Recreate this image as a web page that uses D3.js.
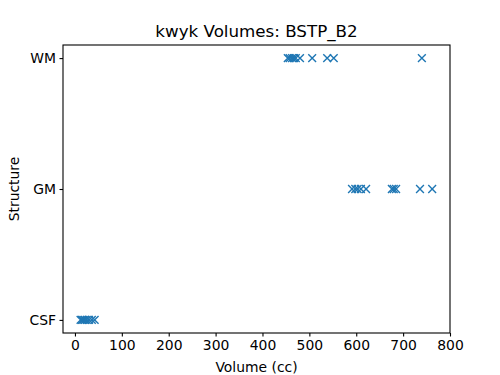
<!DOCTYPE html>
<html>
<head>
<meta charset="utf-8">
<script src="https://cdn.jsdelivr.net/npm/d3@7"></script>
<style>
  body { margin: 0; background: #fff; }
  text { font-family: "DejaVu Sans", sans-serif; fill: #000; }
</style>
</head>
<body>
<div id="chart"></div>
<script>
// volumes (cc)
const structures = ["CSF", "GM", "WM"];
const csfVolumes = [12, 15, 18, 21, 25, 30, 36, 42];
const gmVolumes = [591, 598, 603, 610, 621, 676, 680, 685, 736, 762];
const wmVolumes = [454, 458, 463, 467, 471, 480, 506, 538, 552, 740];
const xTicks = [0, 100, 200, 300, 400, 500, 600, 700, 800];

const points = [];
csfVolumes.forEach(v => points.push({s: "CSF", v: v}));
gmVolumes.forEach(v => points.push({s: "GM", v: v}));
wmVolumes.forEach(v => points.push({s: "WM", v: v}));

const width = 500, height = 375;
const margin = {top: 45, right: 50, bottom: 42, left: 63};

const svg = d3.select("#chart").append("svg")
  .attr("width", width)
  .attr("height", height);

const x = d3.scaleLinear()
  .domain([-25.5, 800])
  .range([margin.left, width - margin.right]);

// categorical axis with matplotlib-like padding
const yIdx = d3.scaleLinear()
  .domain([-0.1, 2.1])
  .range([height - margin.bottom, margin.top]);
const y = s => yIdx(structures.indexOf(s));

// axes
svg.append("g")
  .attr("transform", `translate(0,${height - margin.bottom})`)
  .call(d3.axisBottom(x).tickValues(xTicks).tickSize(3.5).tickPadding(3.5))
  .call(g => g.select(".domain").remove())
  .selectAll("text").style("font-size", "13.9px");

const yAxis = d3.axisLeft(yIdx)
  .tickValues([0, 1, 2])
  .tickFormat(i => structures[i])
  .tickSize(3.5).tickPadding(3.5);
svg.append("g")
  .attr("transform", `translate(${margin.left},0)`)
  .call(yAxis)
  .call(g => g.select(".domain").remove())
  .selectAll("text").style("font-size", "13.9px");

svg.selectAll(".tick line").attr("stroke", "#000").attr("stroke-width", 1.1);

// frame
svg.append("rect")
  .attr("x", margin.left)
  .attr("y", margin.top)
  .attr("width", width - margin.left - margin.right)
  .attr("height", height - margin.top - margin.bottom)
  .attr("fill", "none")
  .attr("stroke", "#000")
  .attr("stroke-width", 1.1);

// x markers
const r = 3.9;
svg.append("g").selectAll("path")
  .data(points)
  .join("path")
  .attr("d", d => {
    const cx = x(d.v), cy = y(d.s);
    return `M${cx - r},${cy - r}L${cx + r},${cy + r}M${cx - r},${cy + r}L${cx + r},${cy - r}`;
  })
  .attr("stroke", "#1f77b4")
  .attr("stroke-width", 1.4)
  .attr("fill", "none");

// titles
svg.append("text")
  .attr("x", (margin.left + width - margin.right) / 2)
  .attr("y", 37)
  .attr("text-anchor", "middle")
  .style("font-size", "16.7px")
  .text("kwyk Volumes: BSTP_B2");

svg.append("text")
  .attr("x", (margin.left + width - margin.right) / 2)
  .attr("y", 372)
  .attr("text-anchor", "middle")
  .style("font-size", "13.9px")
  .text("Volume (cc)");

svg.append("text")
  .attr("transform", `translate(19,${(margin.top + height - margin.bottom) / 2}) rotate(-90)`)
  .attr("text-anchor", "middle")
  .style("font-size", "13.9px")
  .text("Structure");
</script>
</body>
</html>
